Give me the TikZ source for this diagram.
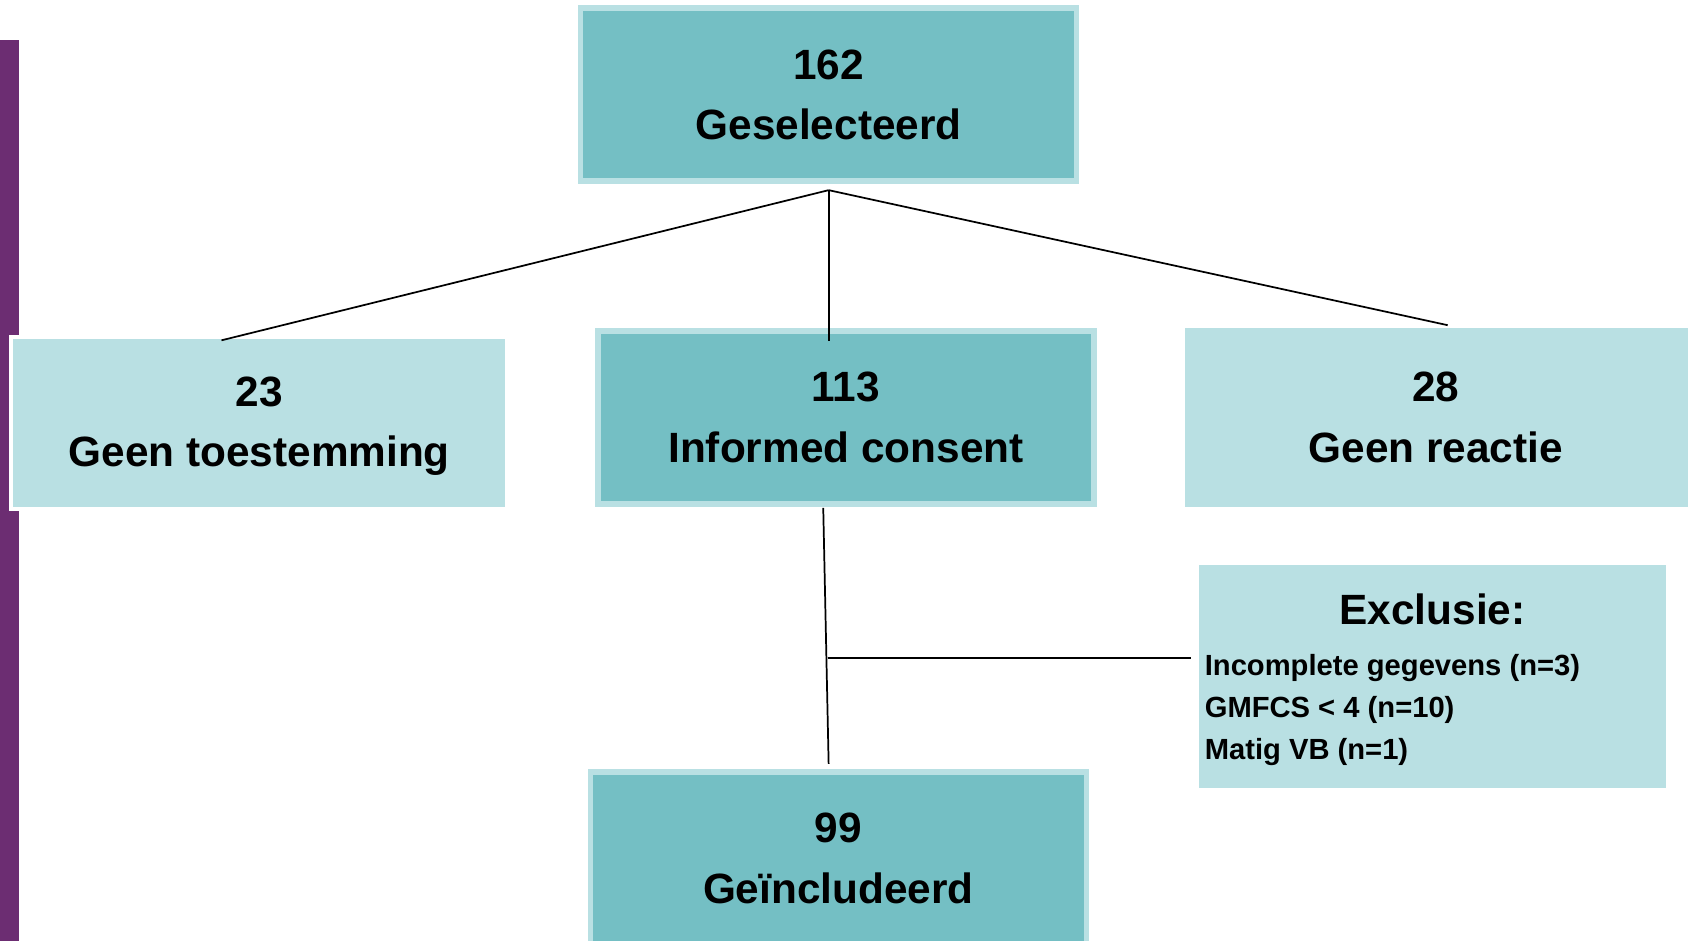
\documentclass[tikz,border=0pt]{standalone}
\usepackage{fontspec}
\setmainfont{Liberation Sans}
\definecolor{darkteal}{RGB}{116,191,196}
\definecolor{lightteal}{RGB}{185,224,227}
\definecolor{purplebar}{RGB}{108,45,114}
\begin{document}
\begin{tikzpicture}[x=1pt,y=-1pt,
  darkbox/.style={draw=lightteal, fill=darkteal, line width=5pt, minimum width=459pt, minimum height=160pt, inner sep=0pt},
  lightbox/.style={draw=white, fill=lightteal, line width=4pt, minimum width=459pt, minimum height=159pt, inner sep=0pt},
  big/.style={font=\fontsize{39.2}{47}\bfseries, inner sep=0pt, anchor=base},
  small/.style={font=\fontsize{27}{32}\bfseries, inner sep=0pt, anchor=base west},
  conn/.style={draw=black, line width=1.6pt}]
\useasboundingbox (0,0) rectangle (1568,871);
\fill[white] (0,0) rectangle (1568,871);
\fill[purplebar] (0,37) rectangle (18,871);
% boxes
\node[darkbox] (sel) at (767,87.5) {};
\node[lightbox] (geen) at (239.5,391.5) {};
\node[darkbox] (inf) at (783,386.5) {};
\node[lightbox, minimum width=469pt, minimum height=169pt] (reac) at (1329.5,386.5) {};
\node[lightbox, minimum width=436pt, minimum height=210pt] (excl) at (1326,626) {};
\node[darkbox] (incl) at (776,794.5) {};
% texts
\node[big] (selA) at (767,73.5) {162};
\node[big] (selB) at (767,129.5) {Geselecteerd};
\node[big] (geenA) at (240,376) {23};
\node[big] (geenB) at (240,432) {Geen toestemming};
\node[big] (infA) at (783,372) {113};
\node[big] (infB) at (783,428) {Informed consent};
\node[big] (reacA) at (1329,372) {28};
\node[big] (reacB) at (1329,428) {Geen reactie};
\node[big] (inclA) at (776,780) {99};
\node[big] (inclB) at (776,836) {Geïncludeerd};
\node[big] (exclT) at (1326,578) {Exclusie:};
\node[small] (exclA) at (1115,625) {Incomplete gegevens (n=3)};
\node[small] (exclB) at (1115,664) {GMFCS < 4 (n=10)};
\node[small] (exclC) at (1115,703) {Matig VB (n=1)};
% connectors
\coordinate (j) at (767,176);
\coordinate (geenTop) at (205,315);
\coordinate (infTop) at (767,316);
\coordinate (reacTop) at (1340,301);
\coordinate (infBot) at (762,470);
\coordinate (inclTop) at (767,707);
\coordinate (branch) at (766,609);
\coordinate (exclLeft) at (1102,609);
\draw[conn] (j) -- (geenTop);
\draw[conn] (j) -- (infTop);
\draw[conn] (j) -- (reacTop);
\draw[conn] (infBot) -- (inclTop);
\draw[conn] (branch) -- (exclLeft);
\end{tikzpicture}
\end{document}
